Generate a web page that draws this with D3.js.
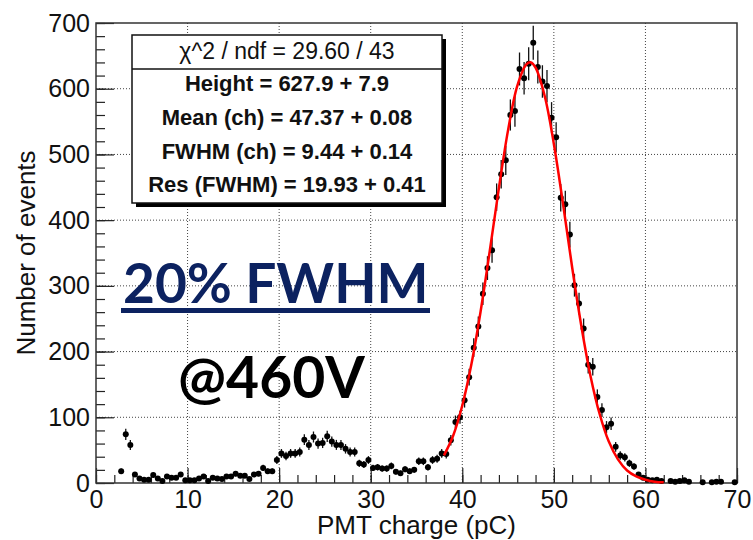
<!DOCTYPE html>
<html>
<head>
<meta charset="utf-8">
<script src="https://cdn.jsdelivr.net/npm/d3@7"></script>
<style>
  body { margin: 0; background: #fff; }
  svg { display: block; font-family: "Liberation Sans", Arial, sans-serif; }
</style>
</head>
<body>
<div id="graph1"></div>
<script>
// histogram bins (bin centre, pC) and counts
var binCenters = [2.75, 3.25, 3.75, 4.25, 4.75, 5.25, 5.75, 6.25, 6.75, 7.25, 7.75, 8.25, 8.75, 9.25, 9.75,
  10.25, 10.75, 11.25, 11.75, 12.25, 12.75, 13.25, 13.75, 14.25, 14.75, 15.25, 15.75, 16.25, 16.75, 17.25, 17.75,
  18.25, 18.75, 19.25, 19.75, 20.25, 20.75, 21.25, 21.75, 22.25, 22.75, 23.25, 23.75, 24.25, 24.75, 25.25, 25.75,
  26.25, 26.75, 27.25, 27.75, 28.25, 28.75, 29.25, 29.75, 30.25, 30.75, 31.25, 31.75, 32.25, 32.75, 33.25, 33.75,
  34.25, 34.75, 35.25, 35.75, 36.25, 36.75, 37.25, 37.75, 38.25, 38.75, 39.25, 39.75, 40.25, 40.75, 41.25, 41.75,
  42.25, 42.75, 43.25, 43.75, 44.25, 44.75, 45.25, 45.75, 46.25, 46.75, 47.25, 47.75, 48.25, 48.75, 49.25, 49.75,
  50.25, 50.75, 51.25, 51.75, 52.25, 52.75, 53.25, 53.75, 54.25, 54.75, 55.25, 55.75, 56.25, 56.75, 57.25, 57.75,
  58.25, 58.75, 59.25, 59.75, 60.25, 60.75, 61.25, 61.75, 62.75, 63.25, 63.75, 64.25, 64.75, 66.25, 67.25, 67.75,
  68.25, 69.75];
var counts = [18, 74, 58, 13, 7, 5, 5, 12, 7, 3, 10, 8, 8, 13, 4,
  4, 4, 7, 10, 3, 8, 7, 6, 10, 10, 14, 11, 11, 6, 13, 14,
  23, 18, 18, 35, 45, 41, 45, 45, 47, 66, 58, 70, 60, 61, 71, 63,
  58, 58, 52, 47, 47, 30, 28, 35, 23, 24, 22, 22, 26, 17, 15, 21,
  18, 20, 33, 33, 24, 35, 37, 45, 44, 65, 93, 100, 126, 161, 206, 238,
  288, 327, 354, 435, 470, 491, 560, 566, 630, 616, 638, 670, 633, 611, 604, 556,
  526, 434, 424, 378, 301, 273, 235, 180, 177, 131, 111, 85, 90, 55, 42, 39,
  30, 25, 13, 8, 5, 4, 5, 3, 3, 2, 3, 4, 2, 1, 1, 2,
  2, 1];

// fitted curve
var fitX = [38, 39, 40, 41, 42, 43, 44, 45, 46, 47, 47.5, 48, 49, 50, 51, 52, 53, 54, 55, 56, 57, 58, 59, 60, 61, 62];
var fitY = [42, 72, 118, 181, 261, 353, 449, 537, 604, 637, 640, 632, 589, 516, 425, 328, 239, 163, 105, 63, 36, 19, 10, 5, 2, 1];

var xMajor = [0, 10, 20, 30, 40, 50, 60, 70];
var yMajor = [0, 100, 200, 300, 400, 500, 600, 700];
var xMinor = d3.range(0, 71, 2);
var yMinor = d3.range(0, 701, 20);

var statLines = ["Height = 627.9 + 7.9", "Mean (ch) = 47.37 + 0.08", "FWHM (ch) = 9.44 + 0.14", "Res (FWHM) = 19.93 + 0.41"];
var statHeader = "\u03c7^2 / ndf = 29.60 / 43";

var w = 753;
var h = 540;
var padL = 96, padR = 737, padT = 23, padB = 483;

var svg = d3.select("#graph1")
    .append("svg")
    .attr("width", w)
    .attr("height", h);

svg.append("rect").attr("width", w).attr("height", h).attr("fill", "#fff");

var x = d3.scaleLinear().domain([0, 70]).range([padL, padR]);
var y = d3.scaleLinear().domain([0, 700]).range([padB, padT]);

// dotted grid
svg.append("g").selectAll("line")
    .data(xMajor.slice(1, -1))
    .enter().append("line")
    .attr("x1", function (d) { return x(d); }).attr("x2", function (d) { return x(d); })
    .attr("y1", padT).attr("y2", padB)
    .attr("stroke", "#444").attr("stroke-width", 1).attr("stroke-dasharray", "1,2");
svg.append("g").selectAll("line")
    .data(yMajor.slice(1, -1))
    .enter().append("line")
    .attr("x1", padL).attr("x2", padR)
    .attr("y1", function (d) { return y(d); }).attr("y2", function (d) { return y(d); })
    .attr("stroke", "#444").attr("stroke-width", 1).attr("stroke-dasharray", "1,2");

// minor ticks
svg.append("g")
    .attr("transform", "translate(0," + padB + ")")
    .call(d3.axisBottom(x).tickValues(xMinor).tickSize(-8).tickFormat(""))
    .call(function (g) { g.select(".domain").remove(); });
svg.append("g")
    .attr("transform", "translate(" + padL + ",0)")
    .call(d3.axisLeft(y).tickValues(yMinor).tickSize(-9).tickFormat(""))
    .call(function (g) { g.select(".domain").remove(); });

// major ticks + labels
var xAxis = svg.append("g")
    .attr("transform", "translate(0," + padB + ")")
    .call(d3.axisBottom(x).tickValues(xMajor).tickSize(-15).tickPadding(7).tickFormat(d3.format("d")));
var yAxis = svg.append("g")
    .attr("transform", "translate(" + padL + ",0)")
    .call(d3.axisLeft(y).tickValues(yMajor).tickSize(-18).tickPadding(6).tickFormat(d3.format("d")));
[xAxis, yAxis].forEach(function (g) {
    g.select(".domain").remove();
    g.selectAll("text").attr("font-size", 25).attr("fill", "#111").attr("font-family", "Liberation Sans, Arial, sans-serif");
});
svg.selectAll(".tick line").attr("stroke", "#222").attr("stroke-width", 1.2);

// frame
svg.append("rect")
    .attr("x", padL).attr("y", padT)
    .attr("width", padR - padL).attr("height", padB - padT)
    .attr("fill", "none").attr("stroke", "#333").attr("stroke-width", 1.5);

// axis titles
svg.append("text")
    .attr("x", (padL + padR) / 2).attr("y", 534)
    .attr("text-anchor", "middle").attr("font-size", 26).attr("fill", "#111")
    .text("PMT charge (pC)");
svg.append("text")
    .attr("transform", "translate(35," + ((padT + padB) / 2) + ") rotate(-90)")
    .attr("text-anchor", "middle").attr("font-size", 26).attr("fill", "#111")
    .text("Number of events");

// data points with sqrt(N) error bars
var pts = svg.append("g").selectAll("g.pt")
    .data(binCenters.map(function (c, i) { return { x: c, v: counts[i] }; }))
    .enter().append("g").attr("class", "pt");
pts.append("line")
    .attr("x1", function (d) { return x(d.x); }).attr("x2", function (d) { return x(d.x); })
    .attr("y1", function (d) { return y(d.v + Math.sqrt(d.v)); })
    .attr("y2", function (d) { return Math.min(padB, y(d.v - Math.sqrt(d.v))); })
    .attr("stroke", "#111").attr("stroke-width", 1.3);
pts.append("circle")
    .attr("cx", function (d) { return x(d.x); })
    .attr("cy", function (d) { return y(d.v); })
    .attr("r", 3).attr("fill", "#000");

// fit
var line = d3.line()
    .x(function (d) { return x(d[0]); })
    .y(function (d) { return y(d[1]); })
    .curve(d3.curveCatmullRom);
svg.append("path")
    .datum(fitX.map(function (v, i) { return [v, fitY[i]]; }))
    .attr("d", line)
    .attr("fill", "none").attr("stroke", "#f00").attr("stroke-width", 2.5);

// stats box
var bx = 132, by = 35, bw = 310, bh = 168;
svg.append("rect").attr("x", bx + 4).attr("y", by + 4).attr("width", bw).attr("height", bh).attr("fill", "#000");
svg.append("rect").attr("x", bx).attr("y", by).attr("width", bw).attr("height", bh)
    .attr("fill", "#fff").attr("stroke", "#111").attr("stroke-width", 1.5);
svg.append("line").attr("x1", bx).attr("x2", bx + bw).attr("y1", 69).attr("y2", 69)
    .attr("stroke", "#111").attr("stroke-width", 1.5);
svg.append("text")
    .attr("x", bx + bw / 2).attr("y", 59)
    .attr("text-anchor", "middle").attr("font-size", 23).attr("fill", "#111")
    .text(statHeader);
svg.selectAll("text.stat")
    .data(statLines)
    .enter().append("text")
    .attr("class", "stat")
    .attr("x", bx + bw / 2)
    .attr("y", function (d, i) { return 91 + i * 33.8; })
    .attr("text-anchor", "middle").attr("font-size", 22).attr("font-weight", "bold").attr("fill", "#111")
    .text(function (d) { return d; });

// annotations
svg.append("text")
    .attr("x", 123).attr("y", 303)
    .attr("font-family", "Lato, sans-serif").attr("font-weight", "bold").attr("font-size", 55)
    .attr("fill", "#0c2260")
    .text("20% FWHM");
svg.append("rect").attr("x", 121).attr("y", 308).attr("width", 309).attr("height", 5).attr("fill", "#0c2260");
svg.append("text")
    .attr("x", 178).attr("y", 398)
    .attr("font-family", "Lato, sans-serif").attr("font-weight", "bold").attr("font-size", 57)
    .attr("fill", "#000")
    .text("@460V");
</script>
</body>
</html>
